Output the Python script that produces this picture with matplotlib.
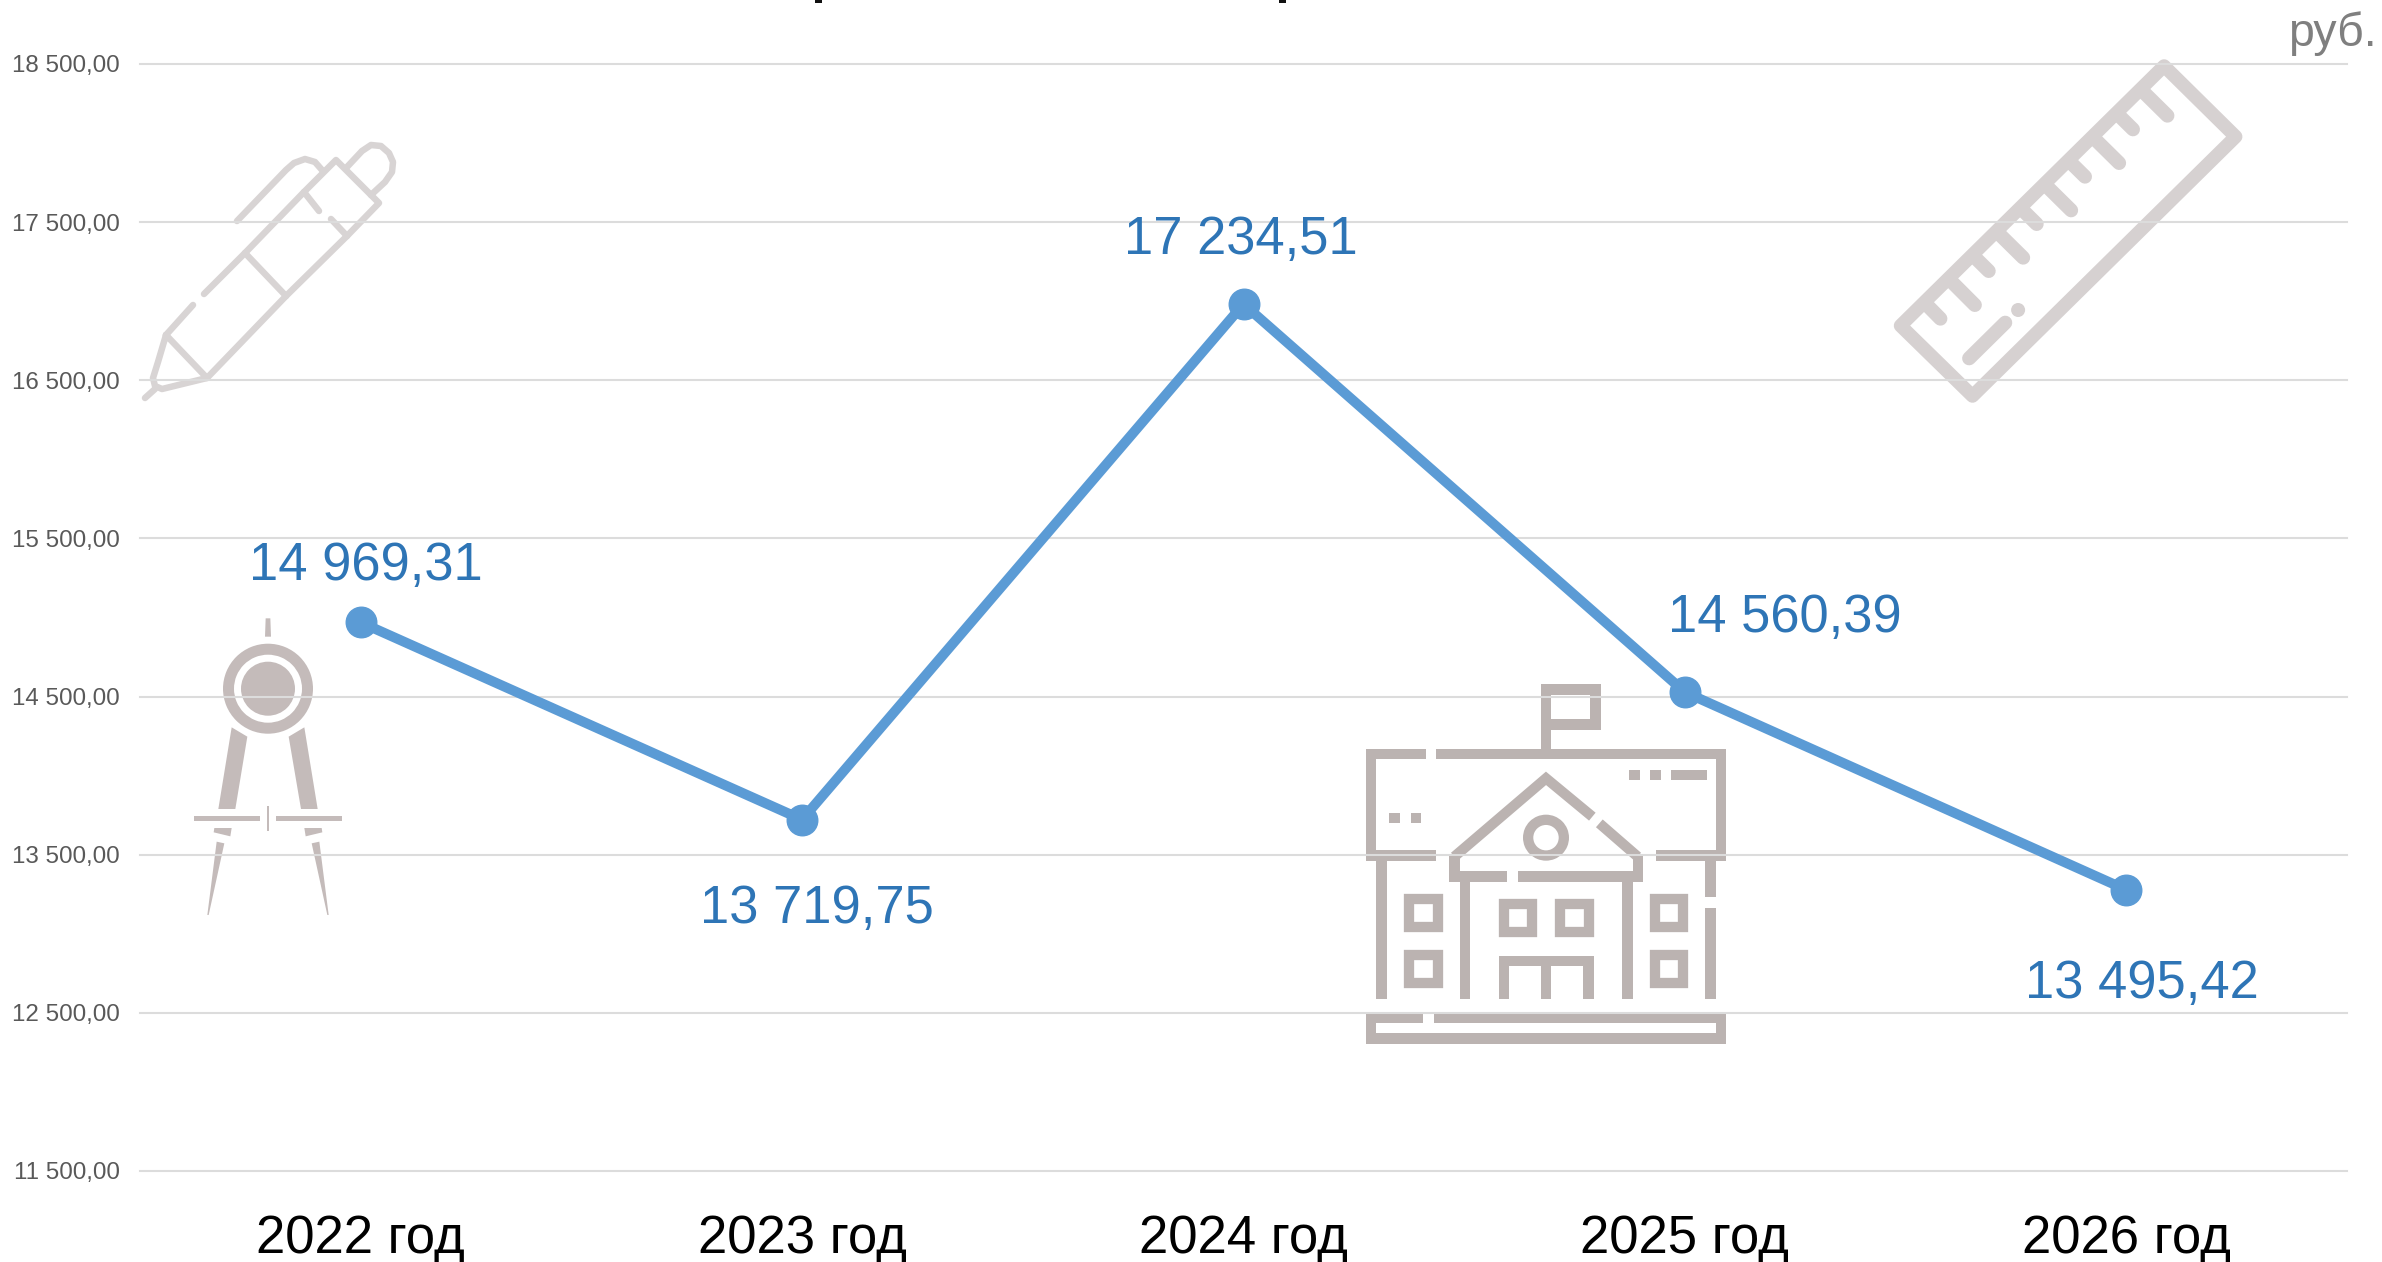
import matplotlib
matplotlib.use("Agg")
import matplotlib.pyplot as plt
from matplotlib.patches import Polygon, Rectangle, Circle, Wedge
from matplotlib.ticker import FuncFormatter

plt.rcParams['font.family'] = ['Liberation Sans', 'DejaVu Sans']

W, H = 2382, 1262

years = ['2022 год', '2023 год', '2024 год', '2025 год', '2026 год']
# where the points actually sit on the axis (differs from the printed labels)
plotted = [14969, 13722, 16982, 14528, 13278]
labels = ['14 969,31', '13 719,75', '17 234,51', '14 560,39', '13 495,42']
label_dx = [5, 15, -3, 100, 16]
label_dy = [56, -89, 64, 74, -94]
yticks = [11500, 12500, 13500, 14500, 15500, 16500, 17500, 18500]


def money(v, pos=None):
    s = f"{v:,.2f}".replace(",", " ").replace(".", ",")
    return s


fig = plt.figure(figsize=(W / 100, H / 100), dpi=100)
ax = fig.add_axes([140 / W, 1 - 1171 / H, (2347 - 140) / W, (1171 - 64) / H])
ax.set_zorder(2)
ax.patch.set_alpha(0)

ax.plot(range(5), plotted, color='#5b9bd5', lw=7.2, marker='o', ms=22,
        solid_capstyle='round', zorder=4, clip_on=False)
for i, txt in enumerate(labels):
    ax.annotate(txt, (i, plotted[i]), xytext=(label_dx[i] * 0.72, label_dy[i] * 0.72),
                textcoords='offset points', ha='center', va='center',
                fontsize=37.8, color='#2e75b6', zorder=5)

ax.set_xlim(-0.5, 4.5)
ax.set_ylim(11500, 18500)
ax.set_xticks(range(5))
ax.set_xticklabels(years, fontsize=38, color='black')
ax.set_yticks(yticks)
ax.yaxis.set_major_formatter(FuncFormatter(money))
ax.tick_params(axis='y', length=0, labelsize=17.4, labelcolor='#595959', pad=14.7)
ax.tick_params(axis='x', length=0, pad=31)
ax.grid(axis='y', color='#dcdcdc', lw=1.5)
ax.set_axisbelow(True)
for gl in ax.get_ygridlines():
    gl.set_clip_on(False)
for s in ax.spines.values():
    s.set_visible(False)

fig.text(2377 / W, 1 - 46 / H, 'руб.', fontsize=33.4, color='#7f7f7f', ha='right', va='baseline')

# icons live on a pixel canvas under the chart
bg = fig.add_axes([0, 0, 1, 1], zorder=1)
bg.set_xlim(0, W)
bg.set_ylim(H, 0)
bg.axis('off')
PX = 0.72  # points per pixel


def stroke(pts, color, lw, cap='round', join='round'):
    xs, ys = zip(*pts)
    bg.plot(xs, ys, color=color, lw=lw * PX, solid_capstyle=cap, solid_joinstyle=join)


# what is left of the title, cut off by the top edge
for x0 in [815, 1279]:
    bg.add_patch(Rectangle((x0, 0), 7, 3, color='#111111', lw=0))

# pen
pen = '#d8d4d4'
for part in [
    [(145, 398), (155, 389)],
    [(166, 335), (158, 362), (153, 378), (155, 386), (162, 389), (207, 378), (166, 335)],
    [(193, 305), (166, 335)],
    [(207, 378), (286, 296), (245, 253), (204, 294)],
    [(245, 253), (304, 192), (336, 160), (379, 203), (347, 236), (331, 219)],
    [(319, 211), (304, 192)],
    [(347, 236), (286, 296)],
    [(237, 221), (286, 170), (294, 163), (305, 159), (315, 162), (322, 170)],
    [(347, 167), (362, 151), (371, 145), (381, 146), (389, 153), (393, 162), (392, 172), (385, 182), (371, 195)],
]:
    stroke(part, pen, 6.5)


# compass, traced at 3x from (130, 580)
comp = '#c4bbba'


def cx(p):
    return [(130 + x / 3, 580 + y / 3) for x, y in p]


ctr = (268, 688.7)
bg.add_patch(Wedge(ctr, 45, 0, 360, width=11, color=comp, lw=0))
bg.add_patch(Circle(ctr, 27, color=comp, lw=0))
for poly in [
    [(407, 115), (421, 115), (423, 170), (405, 170)],
    [(305, 442), (352, 470), (316, 687), (265, 687)],
    [(523, 442), (476, 470), (513, 687), (563, 687)],
    [(193, 709), (390, 709), (390, 722), (193, 722)],
    [(438, 709), (635, 709), (635, 722), (438, 722)],
    [(412, 678), (416, 678), (416, 753), (412, 753)],
    [(253, 744), (305, 744), (301, 769), (251, 757)],
    [(523, 744), (575, 744), (577, 757), (527, 769)],
    [(260, 785), (283, 790), (236, 1005), (232, 1005)],
    [(545, 790), (568, 785), (596, 1005), (592, 1005)],
]:
    bg.add_patch(Polygon(cx(poly), color=comp, lw=0))

# school, traced at 3x from (1340, 670)
sch = '#bbb3b1'
sch_rects = [
    (602, 42, 634, 237), (602, 42, 782, 74), (750, 42, 782, 180), (634, 148, 782, 180),
    (78, 237, 257, 268), (288, 237, 1158, 268), (78, 237, 109, 572), (1127, 237, 1158, 572),
    (78, 541, 288, 572), (947, 541, 1158, 572),
    (867, 300, 899, 331), (930, 300, 962, 331), (994, 300, 1100, 331),
    (148, 429, 180, 460), (212, 429, 244, 460),
    (328, 552, 359, 635), (878, 552, 909, 635), (328, 604, 502, 635), (534, 604, 909, 635),
    (109, 572, 141, 987), (359, 635, 391, 987), (846, 635, 878, 987),
    (1095, 572, 1127, 680), (1095, 713, 1127, 987),
    (476, 857, 761, 888), (476, 857, 507, 987), (602, 857, 634, 987), (730, 857, 761, 987),
    (78, 1030, 250, 1059), (282, 1030, 1158, 1059), (78, 1090, 1158, 1121),
    (78, 1030, 109, 1121), (1127, 1030, 1158, 1121),
]
for x0, y0, x1, y1 in sch_rects:
    bg.add_patch(Rectangle((1340 + x0 / 3, 670 + y0 / 3), (x1 - x0) / 3, (y1 - y0) / 3,
                           color=sch, lw=0))
for x0, y0 in [(192, 670), (192, 839), (928, 670), (928, 839), (476, 685), (645, 685)]:
    bg.add_patch(Rectangle((1340 + (x0 + 15.5) / 3, 670 + (y0 + 15.5) / 3), 85 / 3, 85 / 3,
                           fill=False, ec=sch, lw=10.3 * PX, joinstyle='miter'))
bg.add_patch(Wedge((1340 + 618 / 3, 670 + 503 / 3), 23, 0, 360, width=10.3, color=sch, lw=0))
for part in [[(343, 560), (618, 325), (757, 440)], [(778, 460), (893, 560)]]:
    stroke([(1340 + x / 3, 670 + y / 3) for x, y in part], sch, 10.3, cap='butt', join='miter')

# ruler, traced from (1860, 0)
rul = '#d6d1d1'


def rx(p):
    return [(1860 + x / 2.96, y / 3) for x, y in p]


bg.add_patch(Polygon(rx([(900, 198), (1112, 410), (333, 1188), (120, 977)]), fill=False, ec=rul,
                     lw=13.5 * PX, joinstyle='round'))
for a, b in [((843, 280), (910, 347)), ((772, 352), (808, 388)), ((700, 422), (767, 489)),
             ((630, 494), (666, 530)), ((558, 564), (625, 631)), ((487, 636), (523, 672)),
             ((416, 706), (483, 773)), ((345, 777), (381, 813)), ((274, 848), (340, 915)),
             ((203, 920), (238, 956)), ((323, 1075), (430, 968))]:
    stroke(rx([a, b]), rul, 14)
bg.add_patch(Circle(rx([(468, 930)])[0], 7, color=rul, lw=0))

fig.savefig('out.png', dpi=100, facecolor='white')
